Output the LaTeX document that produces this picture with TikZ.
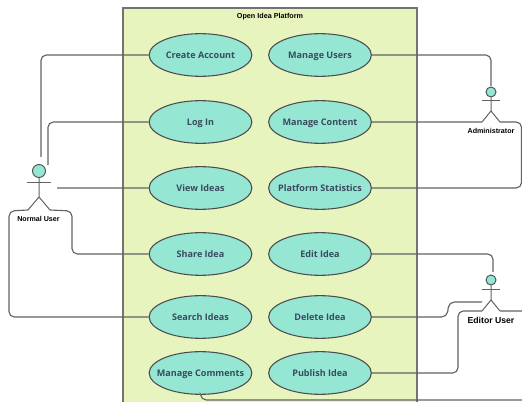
\documentclass[tikz,border=0pt]{standalone}
\usepackage{fontspec}
\setmainfont{Liberation Sans}
\newfontfamily\usecasefont{Open Sans}
\usetikzlibrary{shapes.geometric}
\definecolor{boxgreen}{HTML}{E8F4BE}
\definecolor{casegreen}{HTML}{95E6D3}
\definecolor{linegrey}{HTML}{626262}
\definecolor{casetext}{HTML}{3A4A60}
\newcommand{\uclabel}[1]{\makebox[0pt]{#1}}
\begin{document}
\begin{tikzpicture}[x=0.75pt,y=-0.75pt,
  usecase/.style={ellipse,draw=black!70,fill=casegreen,line width=0.8pt,minimum width=77pt,minimum height=32pt,inner sep=0pt,text height=7pt,text depth=1.5pt,font=\usecasefont\bfseries\fontsize{6.8}{8}\selectfont,text=casetext},
  head/.style={circle,draw=black!70,fill=casegreen,line width=0.7pt,inner sep=0pt},
  actorlabel/.style={inner sep=0pt,font=\bfseries\fontsize{5.35}{6}\selectfont},
  link/.style={draw=linegrey,line width=0.85pt,rounded corners=4pt},
  limb/.style={draw=linegrey,line width=0.75pt}]
\useasboundingbox (0,0) rectangle (522,402);
\begin{scope}
\clip (0,0) rectangle (522,402);
\node [draw=black!55,fill=boxgreen,line width=1pt,minimum width=220.5pt,minimum height=300pt,inner sep=0pt](platform) at (270,208) {};
\node [inner sep=0pt,font=\bfseries\fontsize{5.4}{6}\selectfont](title) at (270,16.5) {Open Idea Platform};
% use cases
\node [usecase](create) at (200.5,55) {\uclabel{Create Account}};
\node [usecase](login) at (200.5,122) {\uclabel{Log In}};
\node [usecase](view) at (200.5,188) {\uclabel{View Ideas}};
\node [usecase](share) at (200.5,254) {\uclabel{Share Idea}};
\node [usecase](search) at (200.5,317) {\uclabel{Search Ideas}};
\node [usecase](comments) at (200.5,373) {\uclabel{Manage Comments}};
\node [usecase](users) at (320,55) {\uclabel{Manage Users}};
\node [usecase](content) at (320,122) {\uclabel{Manage Content}};
\node [usecase](stats) at (320,188) {\uclabel{Platform Statistics}};
\node [usecase](edit) at (320,254) {\uclabel{Edit Idea}};
\node [usecase](delete) at (320,317) {\uclabel{Delete Idea}};
\node [usecase](publish) at (320,373) {\uclabel{Publish Idea}};
% actors
\node [head,minimum size=9.75pt](nhead) at (39,171) {};
\coordinate (nhip) at (39,197);
\coordinate (nlarm) at (27,183);
\coordinate (nrarm) at (51,183);
\coordinate (nlleg) at (28,210);
\coordinate (nrleg) at (50,210);
\node [actorlabel](nlabel) at (38.5,219) {Normal User};
\node [head,minimum size=7.5pt](ahead) at (491,92) {};
\coordinate (ahip) at (491,111);
\coordinate (alarm) at (482,101);
\coordinate (ararm) at (500,101);
\coordinate (alleg) at (482,122);
\coordinate (arleg) at (500,122);
\node [actorlabel](alabel) at (491,131) {Administrator};
\node [head,minimum size=7.5pt](ehead) at (491,280) {};
\coordinate (ehip) at (491,300);
\coordinate (elarm) at (482,290);
\coordinate (erarm) at (500,290);
\coordinate (elleg) at (482,311);
\coordinate (erleg) at (500,311);
\node [actorlabel,font=\bfseries\fontsize{6.5}{7}\selectfont](elabel) at (491,320) {Editor User};
\foreach \a in {n,a,e} {
  \draw [limb] (\a head) -- (\a hip) -- (\a lleg);
  \draw [limb] (\a hip) -- (\a rleg);
  \draw [limb] (\a larm) -- (\a rarm);
}
% connectors
\coordinate (nview) at (57,188);
\coordinate (ntopa) at (41,157);
\coordinate (ntopb) at (48,165);
\coordinate (atop) at (491,86);
\coordinate (etop) at (493,272);
\coordinate (earm) at (482,302);
\path [link]
    (create.west) -| (ntopa)
    (login.west) -| (ntopb)
    (view.west) -- (nview)
    (share.west) -- (72,254) -- (72,211) -- (nrleg)
    (search.west) -- (9,317) -- (9,211) -- (nlleg)
    (users.east) -| (atop)
    (content.east) -- (alleg)
    (stats.east) -- (521.5,188) -- (521.5,122) -- (arleg)
    (edit.east) -| (etop)
    (delete.east) -- (447,317) -- (449,302) -- (earm)
    (publish.east) -- (458,373) -- (458,311) -- (elleg)
    (erleg) -- (522,311)
    (comments.south) -- (201,400) -- (522,400);
\end{scope}
\end{tikzpicture}
\end{document}
